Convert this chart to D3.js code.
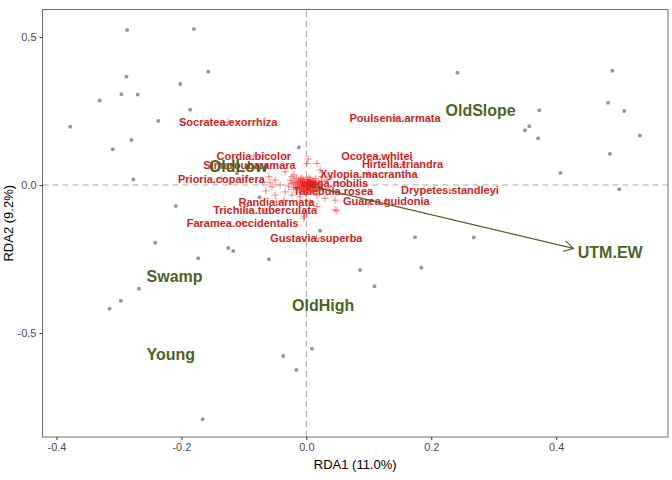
<!DOCTYPE html>
<html><head><meta charset="utf-8">
<script src="https://cdn.jsdelivr.net/npm/d3@7"></script>
<style>body{margin:0;background:#fff;} svg{display:block;font-family:"Liberation Sans",Arial,sans-serif;}</style>
</head><body>
<script>
// Site scores (RDA1, RDA2)
const sites = [
[-0.287,0.524],[-0.180,0.527],[-0.157,0.383],[-0.288,0.366],[-0.202,0.341],[-0.331,0.286],
[-0.296,0.307],[-0.270,0.306],[-0.186,0.254],[-0.237,0.216],[-0.378,0.197],[-0.280,0.152],
[-0.310,0.121],[-0.277,0.019],[-0.012,0.127],[-0.111,0.040],[-0.075,-0.041],[-0.209,-0.071],
[-0.242,-0.195],[-0.125,-0.213],[-0.117,-0.223],[-0.173,-0.247],[-0.060,-0.251],[0.022,-0.154],
[-0.268,-0.350],[-0.297,-0.391],[-0.315,-0.418],[-0.037,-0.577],[-0.016,-0.625],[0.009,-0.553],
[-0.166,-0.791],[0.174,-0.176],[0.268,-0.177],[0.086,-0.287],[0.184,-0.279],[0.109,-0.342],
[0.242,0.379],[0.490,0.386],[0.483,0.278],[0.509,0.250],[0.373,0.253],[0.357,0.199],
[0.350,0.185],[0.371,0.158],[0.534,0.167],[0.486,0.106],[0.407,0.041],[0.501,-0.014]
];
// Species scores (unlabelled)
const speciesPts = [
[-0.018,0.010],[-0.015,-0.004],[-0.012,0.016],[-0.010,0.002],[-0.008,-0.012],[-0.006,0.008],
[-0.005,-0.002],[-0.004,0.018],[-0.003,-0.020],[-0.002,0.004],[0.000,-0.008],[0.001,0.012],
[0.002,0.000],[0.003,-0.015],[0.004,0.006],[0.005,-0.004],[0.006,0.020],[0.007,-0.010],
[0.008,0.003],[0.009,-0.022],[0.010,0.010],[0.011,-0.006],[0.012,0.015],[0.013,-0.002],
[0.014,-0.016],[0.016,0.006],[0.018,-0.008],[-0.020,-0.014],[-0.016,0.022],[-0.011,-0.024],
[-0.007,0.024],[-0.001,-0.027],[0.004,0.026],[0.015,0.022],[0.019,-0.018],[-0.013,-0.009],
[-0.009,0.013],[-0.004,-0.006],[0.000,0.007],[0.003,0.002],[0.006,-0.007],[0.009,0.000],
[0.012,0.005],[-0.002,-0.013],[0.007,0.014],[-0.006,0.000],[0.001,-0.003],[0.005,0.010],
[-0.003,0.011],[0.010,-0.014],[-0.024,0.004],[0.022,0.002],[-0.028,-0.006],[0.026,-0.012],
[-0.026,0.016],[0.024,0.014],
[-0.014,0.006],[-0.011,-0.016],[-0.007,0.004],[-0.005,-0.010],[-0.001,0.001],[0.002,-0.006],
[0.004,-0.001],[0.006,0.004],[0.008,-0.004],[0.011,0.002],[0.013,0.009],[0.015,-0.010],
[-0.017,-0.008],[-0.009,0.020],[0.001,0.018],[0.008,0.010],[-0.003,-0.003],[0.002,0.009],
[0.005,-0.012],[-0.008,-0.004],[0.010,-0.001],[-0.012,0.010],[0.003,-0.019],[0.014,0.001],
[-0.021,0.008],[0.020,-0.002],[-0.006,0.014],[0.007,0.001],
[0.001,0.073],[0.017,0.073],[0.003,0.088],[-0.050,0.017],[-0.058,0.008],[-0.023,0.028],
[-0.010,-0.040],[-0.036,-0.051],[0.046,-0.084],[-0.004,-0.096],[-0.050,-0.034],[-0.034,0.045],
[-0.055,-0.006],[-0.042,0.000],[-0.020,0.034],[0.022,0.051],[0.025,0.028],[-0.034,-0.023],
[-0.023,-0.034],[0.017,-0.034],[0.030,-0.045],[0.046,-0.051],[0.006,-0.056],[0.033,0.017],
[-0.060,0.028],[-0.003,-0.105],[0.099,-0.061],[0.017,-0.073],[-0.004,-0.112],[0.049,-0.087],
[-0.070,0.010],[-0.065,-0.020],[0.040,0.030],[0.035,-0.010]
];
// Labelled species
const spNames = ["Socratea.exorrhiza","Poulsenia.armata","Cordia.bicolor","Simarouba.amara","Prioria.copaifera",
"Ocotea.whitei","Hirtella.triandra","Xylopia.macrantha","Inga.nobilis","Tabebuia.rosea","Drypetes.standleyi",
"Guarea.guidonia","Randia.armata","Trichilia.tuberculata","Faramea.occidentalis","Gustavia.superba"];
const spX = [-0.125,0.142,-0.084,-0.091,-0.136,0.113,0.154,0.100,0.050,0.043,0.230,0.128,-0.048,-0.066,-0.102,0.016];
const spY = [0.213,0.227,0.098,0.067,0.021,0.098,0.070,0.036,0.008,-0.020,-0.017,-0.054,-0.057,-0.085,-0.128,-0.180];
// Factor centroids
const cenNames = ["OldSlope","OldLow","Swamp","OldHigh","Young"];
const cenX = [0.279,-0.109,-0.211,0.027,-0.217];
const cenY = [0.253,0.064,-0.307,-0.405,-0.572];
// Continuous variable arrow
const vecName = "UTM.EW";
const vecXY = [0.4277,-0.2139];
const vecLabXY = [0.4865,-0.2266];
// Axis ticks
const xTicks = [-0.4,-0.2,0.0,0.2,0.4];
const yTicks = [-0.5,0.0,0.5];
const xTitle = "RDA1 (11.0%)", yTitle = "RDA2 (9.2%)";

const W=672,H=480;
const svg=d3.select("body").append("svg").attr("width",W).attr("height",H);
const x=d3.scaleLinear().domain([-0.4224,0.579]).range([42.5,668]);
const y=d3.scaleLinear().domain([-0.851,0.593]).range([437,9.5]);
const red="#cd2626", green="#4d6426";

// dashed zero lines
svg.append("line").attr("x1",x.range()[0]).attr("x2",x.range()[1]).attr("y1",y(0)).attr("y2",y(0))
  .attr("stroke","#aaaaaa").attr("stroke-dasharray","6,4").attr("stroke-width",1.1);
svg.append("line").attr("y1",y.range()[0]).attr("y2",y.range()[1]).attr("x1",x(0)).attr("x2",x(0))
  .attr("stroke","#aaaaaa").attr("stroke-dasharray","6,4").attr("stroke-width",1.1);

// sites
svg.append("g").selectAll("circle").data(sites).join("circle")
  .attr("cx",d=>x(d[0])).attr("cy",d=>y(d[1])).attr("r",2).attr("fill","#999");

// species crosses
const allSp = speciesPts.concat(spX.map((v,i)=>[v,spY[i]]));
svg.append("g").selectAll("path").data(allSp).join("path")
  .attr("transform",d=>`translate(${x(d[0])},${y(d[1])})`)
  .attr("d","M-3.6,0H3.6M0,-3.6V3.6").attr("stroke","#ff1a1a").attr("stroke-opacity",0.5).attr("stroke-width",1).attr("fill","none");

// species labels
svg.append("g").selectAll("text").data(spNames).join("text")
  .attr("x",(d,i)=>x(spX[i])).attr("y",(d,i)=>y(spY[i])).attr("dy","0.36em")
  .attr("text-anchor","middle").attr("font-size",11).attr("font-weight","bold").attr("fill",red).text(d=>d);

// centroid labels
svg.append("g").selectAll("text").data(cenNames).join("text")
  .attr("x",(d,i)=>x(cenX[i])).attr("y",(d,i)=>y(cenY[i])).attr("dy","0.36em")
  .attr("text-anchor","middle").attr("font-size",16).attr("font-weight","bold").attr("fill",green).text(d=>d);

// arrow
const x0=x(0),y0=y(0),x1=x(vecXY[0]),y1=y(vecXY[1]);
const ang=Math.atan2(y1-y0,x1-x0), L=11, a=Math.PI/6;
svg.append("line").attr("x1",x0).attr("y1",y0).attr("x2",x1).attr("y2",y1).attr("stroke",green).attr("stroke-width",1.2);
svg.append("path").attr("d",`M${x1-L*Math.cos(ang-a)},${y1-L*Math.sin(ang-a)}L${x1},${y1}L${x1-L*Math.cos(ang+a)},${y1-L*Math.sin(ang+a)}`)
  .attr("stroke",green).attr("stroke-width",1.2).attr("fill","none");
svg.append("text").attr("x",x(vecLabXY[0])).attr("y",y(vecLabXY[1])).attr("dy","0.36em")
  .attr("text-anchor","middle").attr("font-size",16).attr("font-weight","bold").attr("fill",green).text(vecName);

// panel border
svg.append("rect").attr("x",x.range()[0]).attr("y",y.range()[1]).attr("width",x.range()[1]-x.range()[0])
  .attr("height",y.range()[0]-y.range()[1]).attr("fill","none").attr("stroke","#707070").attr("stroke-width",1);

// axes
const xa=svg.append("g").attr("transform",`translate(0,${y.range()[0]})`)
  .call(d3.axisBottom(x).tickValues(xTicks).tickFormat(d3.format(".1f")).tickSize(3).tickPadding(3));
const ya=svg.append("g").attr("transform",`translate(${x.range()[0]},0)`)
  .call(d3.axisLeft(y).tickValues(yTicks).tickFormat(d3.format(".1f")).tickSize(3).tickPadding(3));
[xa,ya].forEach(g=>{g.select(".domain").remove();
  g.selectAll(".tick line").attr("stroke","#333");
  g.selectAll(".tick text").attr("fill","#4d4d4d").attr("font-size",11).attr("font-family","Liberation Sans, Arial, sans-serif");});
xa.selectAll(".tick text").text(d=>d3.format(".1f")(d).replace("−","-"));
ya.selectAll(".tick text").text(d=>d3.format(".1f")(d).replace("−","-"));

svg.append("text").attr("x",(x.range()[0]+x.range()[1])/2).attr("y",469).attr("text-anchor","middle")
  .attr("font-size",13).attr("fill","#000").text(xTitle);
svg.append("text").attr("transform",`translate(13,${(y.range()[0]+y.range()[1])/2}) rotate(-90)`).attr("text-anchor","middle")
  .attr("font-size",13).attr("fill","#000").text(yTitle);
</script>
</body></html>
